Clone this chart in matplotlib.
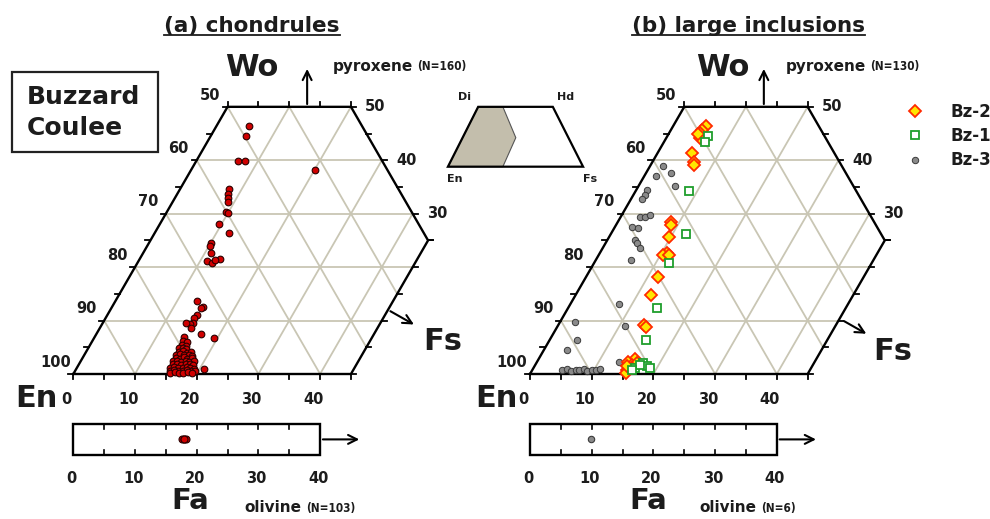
import numpy as np
import matplotlib
matplotlib.use("Agg")
import matplotlib.pyplot as plt
from matplotlib.lines import Line2D
from matplotlib.patches import Rectangle, Polygon
from matplotlib.transforms import IdentityTransform

plt.rcParams['font.family'] = ['DejaVu Sans']
plt.rcParams['font.weight'] = 'bold'

# ---- pyroxene compositions, mol% (Fs, Wo) ----
# chondrules
chon_fs = [5.3, 5.7, 6.8, 7.8, 20.2, 7.9, 8.3, 8.7, 9.1, 9.5, 9.9, 9.5, 12.1, 10.1, 10.2,
           10.9, 11.1, 12.1, 13.0, 12.3,
           13.2, 14.7, 14.5, 14.6, 14.4, 14.6, 14.2, 13.5, 14.8, 17.0, 19.4, 14.5, 20.8,
           14.6, 15.4, 14.9, 15.6, 14.7, 15.3, 16.0, 15.0, 15.7, 16.5, 17.1,
           14.8, 15.5, 16.2, 16.9, 17.5, 15.1, 15.8, 16.4, 17.1, 17.8,
           14.9, 15.6, 16.3, 17.0, 17.6, 18.3, 15.2, 15.9, 16.6, 17.3, 17.9, 18.6,
           15.0, 15.7, 16.4, 17.1, 17.8, 18.4, 19.1, 15.3, 16.0, 16.7, 17.4, 18.1, 18.8, 19.5,
           15.6, 16.3, 17.0, 17.7, 18.5, 19.2]
chon_wo = [46.5, 44.6, 39.9, 39.9, 38.1, 34.6, 33.7, 32.9, 32.1, 30.4, 30.2, 28.1, 26.3, 24.5, 24.0,
           22.7, 21.1, 20.8, 21.5, 21.3,
           13.7, 12.6, 12.4, 11.0, 10.4, 9.6, 9.4, 9.5, 8.6, 7.5, 6.7, 7.0, 0.9,
           6.2, 6.0, 5.5, 5.3, 4.8, 4.9, 4.6, 4.2, 4.3, 4.0, 4.1,
           3.6, 3.7, 3.5, 3.6, 3.4, 3.0, 2.9, 3.1, 2.8, 3.0,
           2.4, 2.5, 2.3, 2.4, 2.2, 2.4, 1.8, 1.9, 1.7, 1.8, 1.9, 1.6,
           1.2, 1.3, 1.1, 1.2, 1.3, 1.1, 1.0, 0.6, 0.7, 0.5, 0.6, 0.7, 0.5, 0.6,
           0.2, 0.3, 0.2, 0.2, 0.3, 0.2]

# large inclusions
bz2_fs = [5.3, 5.0, 5.0, 5.4, 4.7, 5.6, 6.7, 6.9, 8.6, 8.9, 9.6, 10.9, 10.4, 11.3, 11.7,
          12.2, 13.8, 14.5, 15.6, 14.8, 15.3, 15.7, 15.4, 16.3, 16.0, 15.0]
bz2_wo = [46.5, 45.7, 45.1, 44.2, 45.0, 41.4, 39.6, 39.2, 28.5, 27.9, 25.7, 22.6, 22.3, 22.3, 18.2,
          14.8, 9.2, 8.75, 2.9, 2.3, 0.75, 1.7, 0.2, 2.0, 1.2, 1.5]
bz1_fs = [6.6, 6.65, 8.55, 12.2, 12.1, 14.4, 15.6, 17.3, 18.2, 16.5, 17.0, 18.9, 16.1]
bz1_wo = [44.5, 43.5, 34.3, 26.2, 20.7, 12.4, 6.4, 2.1, 1.5, 1.1, 1.7, 1.1, 0.75]
bz3_fs = [2.0, 4.0, 6.0, 1.9, 1.8, 1.9, 1.75, 3.2, 3.9, 4.55, 2.7, 3.9, 4.5, 5.1, 5.95,
          5.65, 7.8, 2.4, 10.9, 4.4, 3.75, 13.3,
          4.9, 5.6, 6.3, 7.0, 7.6, 8.3, 9.0, 9.6, 10.3, 10.9]
bz3_wo = [39.0, 37.7, 35.1, 37.0, 34.4, 33.5, 32.7, 29.3, 29.4, 29.8, 27.6, 27.3, 25.1, 24.5, 23.6,
          21.4, 13.1, 9.8, 9.0, 6.4, 4.4, 2.3,
          0.7, 0.9, 0.6, 0.8, 0.7, 0.9, 0.6, 0.8, 0.7, 0.9]

# olivine Fa (mol%)
ol_chon_fa = [17.6, 17.9, 18.2, 18.0]
ol_incl_fa = [9.9]

en_labels = [50, 60, 70, 80, 90, 100]
fs_labels = [0, 10, 20, 30, 40]
wo_labels = [50, 40, 30]
fa_labels = [0, 10, 20, 30, 40]

R3 = np.sqrt(3) / 2
S = 6.17            # pixels per mol%
DARK = '#1c1c1c'
GRID = '#c9c6b4'


def tern(fs, wo):
    fs = np.asarray(fs, float)
    wo = np.asarray(wo, float)
    return fs + wo / 2, wo * R3


def draw_quad(ax):
    # grid
    for w in (10, 20, 30, 40):
        x, y = tern([0, min(45, 70 - w)], [w, w])
        ax.plot(x, y, color=GRID, lw=1.3, zorder=1)
    for f in (10, 20, 30, 40):
        x, y = tern([f, f], [0, min(50, 70 - f)])
        ax.plot(x, y, color=GRID, lw=1.3, zorder=1)
    for e in (40, 50, 60, 70, 80, 90):
        w0 = min(50, 100 - e)
        f1 = min(45, 100 - e)
        x, y = tern([100 - e - w0, f1], [w0, 100 - e - f1])
        ax.plot(x, y, color=GRID, lw=1.3, zorder=1)
    # outline
    x, y = tern([0, 0, 20, 45, 45, 0], [0, 50, 50, 25, 0, 0])
    ax.plot(x, y, color='black', lw=1.7, zorder=3, solid_joinstyle='miter')
    # ticks
    L = 0.8
    for f in range(0, 46, 5):
        x, y = tern(f, 0)
        ax.plot([x, x], [y, y - L], color='black', lw=1.3)
    for w in range(0, 51, 5):
        x, y = tern(0, w)
        ax.plot([x, x - L], [y, y], color='black', lw=1.3)
    for f in range(0, 21, 5):
        x, y = tern(f, 50)
        ax.plot([x, x], [y, y + L], color='black', lw=1.3)
    for w in range(25, 51, 5):
        x, y = tern(70 - w, w)
        ax.plot([x, x + L], [y, y], color='black', lw=1.3)
    for w in range(0, 26, 5):
        x, y = tern(45, w)
        ax.plot([x, x + L], [y, y], color='black', lw=1.3)
    # labels
    for en in en_labels:
        x, y = tern(0, 100 - en)
        ax.text(x - 2.9, y + 1.9, str(en), ha='center', va='center', fontsize=10.5, color=DARK)
    for f in fs_labels:
        x, y = tern(f, 0)
        ax.text(x - 1.1, y - 4.2, str(f), ha='center', va='center', fontsize=10.5, color=DARK)
    for w in wo_labels:
        x, y = tern(70 - w, w)
        ax.text(x + 2.3, y, str(w), ha='left', va='center', fontsize=10.5, color=DARK)
    # Wo arrow
    ax.annotate('', xy=(37.9, 49.9), xytext=(37.9, 50 * R3),
                arrowprops=dict(arrowstyle='->', lw=1.5, color='black', mutation_scale=16))


def draw_olivine(ax, fa, color, edge, ms):
    ax.add_patch(Rectangle((0, -13.13), 40, 5.03, fill=False, lw=1.7, ec='black'))
    for v in range(5, 40, 5):
        ax.plot([v, v], [-8.1, -8.9], color='black', lw=1.2)
        ax.plot([v, v], [-13.13, -12.33], color='black', lw=1.2)
    ax.annotate('', xy=(46.8, -10.6), xytext=(40, -10.6),
                arrowprops=dict(arrowstyle='->', lw=1.5, color='black', mutation_scale=16))
    for v in fa_labels:
        ax.text(v - 0.3, -16.9, str(v), ha='center', va='center', fontsize=10.5, color=DARK)
    ax.plot(fa, np.full(len(fa), -10.6), 'o', ms=ms, mfc=color, mec=edge, mew=0.8)


def label_with_n(ax, x, y, word, n, size_word, size_n):
    t = ax.text(x, y, word, ha='left', va='baseline', fontsize=size_word, color=DARK)
    ax.annotate(n, xy=(1, 0), xycoords=t, xytext=(3, 0.5), textcoords='offset points',
                ha='left', va='bottom', fontsize=size_n, color=DARK, fontstretch='condensed')


fig = plt.figure(figsize=(9.9, 5.19), dpi=100)
W, H = 990, 519
ylim = ((374 - H) / S, 374 / S)

axL = fig.add_axes([0, 0, 0.5, 1])
axL.set_xlim(-73.3 / S, (495 - 73.3) / S)
axR = fig.add_axes([0.5, 0, 0.5, 1])
axR.set_xlim(-35 / S, 460 / S)
for ax in (axL, axR):
    ax.set_ylim(*ylim)
    ax.axis('off')
    draw_quad(ax)

# (a) chondrules
x, y = tern(chon_fs, chon_wo)
axL.plot(x, y, 'o', ms=4.8, mfc='#d00000', mec='#2a0000', mew=0.8, zorder=4)
draw_olivine(axL, ol_chon_fa, '#d00000', '#2a0000', 5)

axL.text(28.9, 48.3, 'Wo', ha='center', va='baseline', fontsize=22, color=DARK)
axL.text(-6.0, -5.35, 'En', ha='center', va='baseline', fontsize=22, color=DARK)
axL.text(59.8, 3.9, 'Fs', ha='center', va='baseline', fontsize=22, color=DARK)
axL.text(18.9, -21.9, 'Fa', ha='center', va='baseline', fontsize=21, color=DARK)
axL.annotate('', xy=(55.6, 7.8), xytext=(51.0, 10.4),
             arrowprops=dict(arrowstyle='->', lw=1.5, color='black', mutation_scale=16))
label_with_n(axL, 42.1, 49.1, 'pyroxene', '(N=160)', 11, 8.5)
label_with_n(axL, 27.8, -22.4, 'olivine', '(N=103)', 11, 8.5)

axL.add_patch(Rectangle((-9.93, 35.98), 23.66, 12.97, fill=False, lw=1.6, ec='#222222'))
axL.text(-7.5, 44.9, 'Buzzard', ha='left', va='center', fontsize=18, color=DARK)
axL.text(-7.5, 39.9, 'Coulee', ha='left', va='center', fontsize=18, color=DARK)
titleL = axL.text(29.0, 55.4, '(a) chondrules', ha='center', va='baseline', fontsize=15.5, color=DARK)

# (b) large inclusions
x, y = tern(bz3_fs, bz3_wo)
axR.plot(x, y, 'o', ms=4.6, mfc='#8a8a8a', mec='#3a3a3a', mew=0.7, zorder=4, label='Bz-3')
x, y = tern(bz2_fs, bz2_wo)
axR.plot(x, y, 'D', ms=6.0, mfc='#ffe600', mec='#ff2a00', mew=1.3, zorder=5, label='Bz-2')
x, y = tern(bz1_fs, bz1_wo)
axR.plot(x, y, 's', ms=5.4, mfc='white', mec='#1f9e2c', mew=1.3, zorder=6, label='Bz-1')
draw_olivine(axR, ol_incl_fa, '#8a8a8a', '#3a3a3a', 4.6)

handles, labels = axR.get_legend_handles_labels()
order = [labels.index(k) for k in ('Bz-2', 'Bz-1', 'Bz-3')]
axR.legend([handles[i] for i in order], [labels[i] for i in order],
           loc='upper left', bbox_to_anchor=(61.05, 43.9), bbox_transform=axR.transData,
           frameon=False, fontsize=12, borderpad=0, borderaxespad=0,
           handlelength=1.0, handletextpad=1.6, labelspacing=0.37,
           labelcolor=DARK)

axR.text(31.2, 48.3, 'Wo', ha='center', va='baseline', fontsize=22, color=DARK)
axR.text(-5.5, -5.35, 'En', ha='center', va='baseline', fontsize=22, color=DARK)
axR.text(58.8, 2.3, 'Fs', ha='center', va='baseline', fontsize=22, color=DARK)
axR.text(19.2, -21.9, 'Fa', ha='center', va='baseline', fontsize=21, color=DARK)
axR.annotate('', xy=(54.9, 6.3), xytext=(50.5, 8.8),
             arrowprops=dict(arrowstyle='->', lw=1.5, color='black', mutation_scale=16))
label_with_n(axR, 41.5, 49.1, 'pyroxene', '(N=130)', 11, 8.5)
label_with_n(axR, 27.5, -22.4, 'olivine', '(N=6)', 11, 8.5)
titleR = axR.text(35.4, 55.4, '(b) large inclusions', ha='center', va='baseline', fontsize=15.5, color=DARK)

# small pyroxene quadrilateral key (En-Di-Hd-Fs)
axR.add_patch(Polygon([(-13.3, 33.6), (-8.4, 43.3), (-4.4, 43.3), (-2.3, 38.3), (-4.4, 33.6)],
                      closed=True, fc='#c3beac', ec='#555555', lw=0.8, clip_on=False, zorder=2))
axR.add_patch(Polygon([(-13.3, 33.6), (-8.4, 43.3), (3.7, 43.3), (8.6, 33.6)],
                      closed=True, fill=False, ec='black', lw=1.6, clip_on=False, zorder=3))
for txt, px, py in (('Di', -10.6, 44.9), ('Hd', 5.7, 44.9), ('En', -12.2, 31.6), ('Fs', 9.7, 31.6)):
    axR.text(px, py, txt, ha='center', va='center', fontsize=8, color=DARK, clip_on=False)

# underline the panel titles
fig.canvas.draw()
for t in (titleL, titleR):
    bb = t.get_window_extent()
    fig.add_artist(Line2D([bb.x0, bb.x1], [bb.y0 + 1, bb.y0 + 1], transform=IdentityTransform(),
                          color=DARK, lw=1.3))

fig.savefig('out.png', dpi=100)
